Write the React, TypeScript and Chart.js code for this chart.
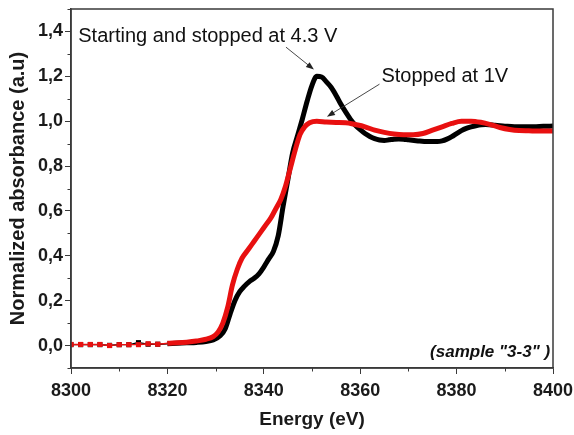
import React, { useEffect, useRef } from 'react';
import { Chart, registerables } from 'chart.js';

Chart.register(...registerables);

const FONT = '"Liberation Sans", Arial, Helvetica, sans-serif';

const xTicks = [8300, 8320, 8340, 8360, 8380, 8400];
const yTicks = [0, 0.2, 0.4, 0.6, 0.8, 1.0, 1.2, 1.4];
const xMinorTicks = [8310, 8330, 8350, 8370, 8390];
const yMinorTicks = [-0.1, 0.1, 0.3, 0.5, 0.7, 0.9, 1.1, 1.3, 1.5];

// "Starting and stopped at 4.3 V" (black)
const blackEnergy = [
  8300, 8302, 8304, 8306, 8308, 8310, 8312, 8314, 8316, 8318, 8320,
  8322, 8324, 8326, 8328, 8329.5, 8331, 8332, 8333, 8334, 8335, 8336, 8337, 8338, 8339,
  8340, 8341, 8342, 8343, 8344, 8345, 8346, 8347, 8348, 8349, 8350, 8351, 8352, 8353,
  8354, 8355, 8356, 8357, 8358, 8359, 8360, 8361, 8362, 8363, 8364, 8365, 8366, 8367,
  8368, 8369, 8370, 8372, 8374, 8376, 8377, 8378, 8379, 8380, 8381, 8382, 8383, 8384,
  8386, 8388, 8390, 8392, 8394, 8396, 8398, 8400,
];
const blackValues = [
  0.004, 0.004, 0.004, 0.004, 0.001, 0.004, 0.004, 0.013, 0.006, 0.006, 0.008,
  0.01, 0.012, 0.014, 0.018, 0.025, 0.045, 0.075, 0.14, 0.2, 0.24, 0.265, 0.285, 0.3, 0.32,
  0.35, 0.385, 0.42, 0.49, 0.62, 0.74, 0.86, 0.935, 1.01, 1.09, 1.16, 1.2, 1.197, 1.175,
  1.15, 1.115, 1.075, 1.04, 1.008, 0.982, 0.962, 0.945, 0.932, 0.922, 0.916, 0.914, 0.917, 0.92,
  0.921, 0.92, 0.917, 0.912, 0.909, 0.909, 0.912, 0.92, 0.931, 0.945, 0.958, 0.968, 0.975, 0.98,
  0.985, 0.982, 0.978, 0.975, 0.975, 0.975, 0.977, 0.978,
];

// "Stopped at 1V" (red)
const redEnergy = [
  8300, 8302, 8304, 8306, 8308, 8310, 8312, 8314, 8316, 8318, 8320,
  8322, 8324, 8326, 8328, 8329.5, 8330.5, 8331.5, 8332.5, 8333.5, 8334.5, 8335.5, 8336.5,
  8337.5, 8338.5, 8339.5, 8340.5, 8341.5, 8342.5, 8343.5, 8344.5, 8345.5, 8346.5, 8347.5,
  8348.5, 8349.5, 8351, 8353, 8355, 8357, 8359, 8361, 8363, 8365, 8367, 8369, 8371, 8373,
  8375, 8377, 8379, 8381, 8383, 8385, 8387, 8389, 8391, 8393, 8395, 8397, 8400,
];
const redValues = [
  0.005, 0.005, 0.005, 0.005, 0.0, 0.004, 0.004, 0.004, 0.008, 0.006, 0.01,
  0.012, 0.015, 0.02, 0.028, 0.04, 0.06, 0.1, 0.17, 0.27, 0.34, 0.39, 0.42,
  0.45, 0.48, 0.51, 0.54, 0.57, 0.61, 0.65, 0.71, 0.79, 0.87, 0.94,
  0.975, 0.993, 1.0, 0.996, 0.994, 0.993, 0.985, 0.975, 0.96, 0.95, 0.943, 0.94, 0.94, 0.945,
  0.96, 0.975, 0.99, 1.0, 1.0, 0.995, 0.985, 0.972, 0.963, 0.958, 0.957, 0.956, 0.956,
];

const annotations = [
  { text: 'Starting and stopped at 4.3 V', x: 8301.5, y: 1.379, from: [8344.6, 1.33], to: [8350.4, 1.23] },
  { text: 'Stopped at 1V', x: 8364.4, y: 1.2, from: [8364, 1.165], to: [8353.1, 1.02] },
];
const sampleLabel = { text: '(sample "3-3" )', x: 8399.4, y: -0.028 };

const PRE_EDGE_END = 8320;

const overlayPlugin = {
  id: 'overlay',
  afterDatasetsDraw(chart: any) {
    const { ctx, chartArea: a, scales } = chart;
    const xs = scales.x;
    const ys = scales.y;
    ctx.save();
    // frame
    ctx.strokeStyle = '#3a3a3a';
    ctx.lineWidth = 1.5;
    ctx.strokeRect(a.left, a.top, a.right - a.left, a.bottom - a.top);
    // minor ticks
    ctx.lineWidth = 1;
    xMinorTicks.forEach((v) => {
      const px = Math.round(xs.getPixelForValue(v)) + 0.5;
      ctx.beginPath();
      ctx.moveTo(px, a.bottom);
      ctx.lineTo(px, a.bottom + 3.5);
      ctx.stroke();
    });
    yMinorTicks.forEach((v) => {
      const py = Math.round(ys.getPixelForValue(v)) + 0.5;
      ctx.beginPath();
      ctx.moveTo(a.left, py);
      ctx.lineTo(a.left - 3.5, py);
      ctx.stroke();
    });
    // annotations
    ctx.fillStyle = '#111';
    ctx.font = `20px ${FONT}`;
    ctx.textAlign = 'left';
    ctx.textBaseline = 'middle';
    annotations.forEach((an) => {
      ctx.fillText(an.text, xs.getPixelForValue(an.x), ys.getPixelForValue(an.y));
      const x0 = xs.getPixelForValue(an.from[0]);
      const y0 = ys.getPixelForValue(an.from[1]);
      const x1 = xs.getPixelForValue(an.to[0]);
      const y1 = ys.getPixelForValue(an.to[1]);
      const ang = Math.atan2(y1 - y0, x1 - x0);
      const hl = 8;
      const hw = 3;
      ctx.strokeStyle = '#333';
      ctx.lineWidth = 0.9;
      ctx.beginPath();
      ctx.moveTo(x0, y0);
      ctx.lineTo(x1 - Math.cos(ang) * hl * 0.8, y1 - Math.sin(ang) * hl * 0.8);
      ctx.stroke();
      ctx.fillStyle = '#222';
      ctx.beginPath();
      ctx.moveTo(x1, y1);
      ctx.lineTo(x1 - Math.cos(ang) * hl - Math.sin(ang) * hw, y1 - Math.sin(ang) * hl + Math.cos(ang) * hw);
      ctx.lineTo(x1 - Math.cos(ang) * hl + Math.sin(ang) * hw, y1 - Math.sin(ang) * hl - Math.cos(ang) * hw);
      ctx.closePath();
      ctx.fill();
      ctx.fillStyle = '#111';
    });
    // sample label
    ctx.font = `italic bold 17px ${FONT}`;
    ctx.textAlign = 'right';
    ctx.fillStyle = '#111';
    ctx.fillText(sampleLabel.text, xs.getPixelForValue(sampleLabel.x), ys.getPixelForValue(sampleLabel.y));
    ctx.restore();
  },
};

function makeDataset(label: string, energy: number[], values: number[], color: string, order: number) {
  return {
    label,
    data: energy.map((e, i) => ({ x: e, y: values[i] })),
    borderColor: color,
    backgroundColor: color,
    borderWidth: 5,
    cubicInterpolationMode: 'monotone' as const,
    borderJoinStyle: 'round' as const,
    borderCapStyle: 'butt' as const,
    pointStyle: 'rect' as const,
    pointBorderWidth: 0,
    pointRadius: (c: any) => (c.raw && c.raw.x <= PRE_EDGE_END - 0.5 ? 3.6 : 0),
    pointHoverRadius: 0,
    segment: {
      borderWidth: (c: any) => (c.p0.parsed.x < PRE_EDGE_END - 0.5 ? 1.4 : 5),
    },
    order,
  };
}

export default function App() {
  const canvasRef = useRef<HTMLCanvasElement | null>(null);

  useEffect(() => {
    document.body.style.margin = '0';
    const canvas = canvasRef.current;
    if (!canvas) return;
    const tickFont = { family: FONT, size: 18, weight: 'bold' as const };
    const chart = new Chart(canvas, {
      type: 'line',
      data: {
        datasets: [
          makeDataset('Stopped at 1V', redEnergy, redValues, 'rgb(232,16,16)', 0),
          makeDataset('Starting and stopped at 4.3 V', blackEnergy, blackValues, '#000000', 1),
        ],
      },
      options: {
        responsive: false,
        animation: false,
        events: [],
        layout: { padding: { top: 9, right: 21, left: 0, bottom: 0 } },
        plugins: {
          legend: { display: false },
          tooltip: { enabled: false },
        },
        scales: {
          x: {
            type: 'linear',
            min: 8300,
            max: 8400,
            afterBuildTicks: (s: any) => {
              s.ticks = xTicks.map((v) => ({ value: v }));
            },
            afterFit: (s: any) => {
              s.height = 67;
              s.paddingLeft = 0;
              s.paddingRight = 0;
            },
            ticks: {
              font: tickFont,
              color: '#1a1a1a',
              padding: 6,
              maxRotation: 0,
              autoSkip: false,
              callback: (v: any) => String(v),
            },
            grid: { display: true, drawOnChartArea: false, drawTicks: true, tickLength: 6, color: '#3a3a3a', lineWidth: 1 },
            border: { display: true, color: '#3a3a3a', width: 1.5 },
            title: {
              display: true,
              text: 'Energy (eV)',
              font: { family: FONT, size: 19, weight: 'bold' },
              color: '#1a1a1a',
              padding: { top: 0, bottom: 4 },
            },
          },
          y: {
            type: 'linear',
            min: -0.1,
            max: 1.5,
            afterBuildTicks: (s: any) => {
              s.ticks = yTicks.map((v) => ({ value: v }));
            },
            afterFit: (s: any) => {
              s.width = 71;
              s.paddingTop = 0;
              s.paddingBottom = 0;
            },
            ticks: {
              font: tickFont,
              color: '#1a1a1a',
              padding: 2,
              autoSkip: false,
              callback: (v: any) => Number(v).toFixed(1).replace('.', ','),
            },
            grid: { display: true, drawOnChartArea: false, drawTicks: true, tickLength: 6, color: '#3a3a3a', lineWidth: 1 },
            border: { display: true, color: '#3a3a3a', width: 1.5 },
            title: {
              display: true,
              text: 'Normalized absorbance (a.u)',
              font: { family: FONT, size: 20, weight: 'bold' },
              color: '#1a1a1a',
              padding: { top: 6, bottom: 0 },
            },
          },
        },
      },
      plugins: [overlayPlugin],
    });
    return () => chart.destroy();
  }, []);

  return (
    <div style={{ width: 574, height: 435, background: '#fff' }}>
      <canvas ref={canvasRef} width={574} height={435} style={{ display: 'block' }} />
    </div>
  );
}
